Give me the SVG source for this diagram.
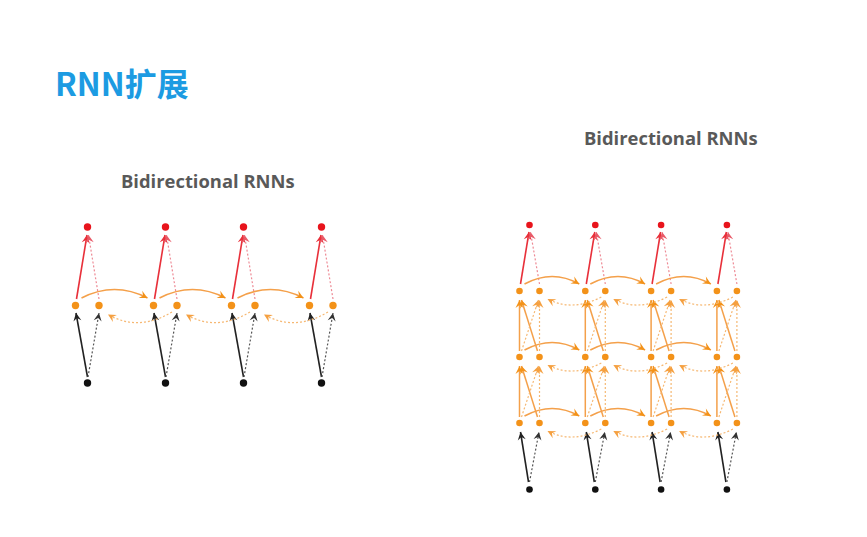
<svg xmlns="http://www.w3.org/2000/svg" width="867" height="537" viewBox="0 0 867 537">
<style>
.ttl{font-family:"Noto Sans CJK SC","Noto Sans",sans-serif;font-weight:700;font-size:32px;fill:#1c9be2}
.sub{font-family:"Open Sans","Noto Sans",sans-serif;font-weight:700;font-size:18.4px;fill:#595959}
.nr{fill:#e8141c}.no{fill:#f39219}.nk{fill:#111}
path{fill:none}
.ks{stroke:#222;stroke-width:1.6;marker-end:url(#ak)}
.kd{stroke:#555;stroke-width:1.2;stroke-dasharray:2 2;marker-end:url(#akd)}
.rs{stroke:#e8303a;stroke-width:1.6;marker-end:url(#ar)}
.rd{stroke:#ee8a95;stroke-width:1.2;stroke-dasharray:2 2;marker-end:url(#ard)}
.os{stroke:#f4a04a;stroke-width:1.5;marker-end:url(#ao)}
.od{stroke:#f6b873;stroke-width:1.2;stroke-dasharray:2 2;marker-end:url(#aod)}
</style>
<defs>
<marker id="ak" viewBox="-9 -5 10 10" refX="0" refY="0" markerWidth="10" markerHeight="10" markerUnits="userSpaceOnUse" orient="auto"><path d="M0,0 L-8,-4 L-5,0 L-8,4 Z" style="fill:#222"/></marker>
<marker id="akd" viewBox="-9 -5 10 10" refX="0" refY="0" markerWidth="10" markerHeight="10" markerUnits="userSpaceOnUse" orient="auto"><path d="M0,0 L-8,-4 L-5,0 L-8,4 Z" style="fill:#333"/></marker>
<marker id="ar" viewBox="-9 -5 10 10" refX="0" refY="0" markerWidth="10" markerHeight="10" markerUnits="userSpaceOnUse" orient="auto"><path d="M0,0 L-8,-4 L-5,0 L-8,4 Z" style="fill:#e8303a"/></marker>
<marker id="ard" viewBox="-9 -5 10 10" refX="0" refY="0" markerWidth="10" markerHeight="10" markerUnits="userSpaceOnUse" orient="auto"><path d="M0,0 L-8,-4 L-5,0 L-8,4 Z" style="fill:#e85a68"/></marker>
<marker id="ao" viewBox="-9 -5 10 10" refX="0" refY="0" markerWidth="10" markerHeight="10" markerUnits="userSpaceOnUse" orient="auto"><path d="M0,0 L-8,-4 L-5,0 L-8,4 Z" style="fill:#f39219"/></marker>
<marker id="aod" viewBox="-9 -5 10 10" refX="0" refY="0" markerWidth="10" markerHeight="10" markerUnits="userSpaceOnUse" orient="auto"><path d="M0,0 L-8,-4 L-5,0 L-8,4 Z" style="fill:#f5a040"/></marker>
</defs>
<rect width="867" height="537" fill="#ffffff"/>
<text class="ttl" x="55" y="96">RNN扩展</text>
<text class="sub" x="121" y="188">Bidirectional RNNs</text>
<text class="sub" x="584" y="145">Bidirectional RNNs</text>

<g id="connectors">
<!-- left diagram -->
<path class="ks" d="M87.5,377 L76,313"/><path class="ks" d="M165.5,377 L154,313"/><path class="ks" d="M243.5,377 L232,313"/><path class="ks" d="M321.5,377 L310,313"/>
<path class="kd" d="M88,377 L99,313"/><path class="kd" d="M166,377 L177,313"/><path class="kd" d="M244,377 L255,313"/><path class="kd" d="M322,377 L333,313"/>
<path class="rs" d="M76.5,299 L87,235"/><path class="rs" d="M154.5,299 L165,235"/><path class="rs" d="M232.5,299 L243,235"/><path class="rs" d="M310.5,299 L321,235"/>
<path class="rd" d="M99,299 L88.5,235"/><path class="rd" d="M177,299 L166.5,235"/><path class="rd" d="M255,299 L244.5,235"/><path class="rd" d="M333,299 L322.5,235"/>
<path class="os" d="M81.5,298 Q114.5,281 147.5,298"/><path class="os" d="M159.5,298 Q192.5,281 225.5,298"/><path class="os" d="M237.5,298 Q270.5,281 303.5,298"/>
<path class="od" d="M172,312 Q138,332 108,314.5"/><path class="od" d="M250,312 Q216,332 186,314.5"/><path class="od" d="M328,312 Q294,332 264,314.5"/>
<!-- right diagram -->
<path class="ks" d="M528.5,482 L520.5,432"/><path class="ks" d="M594.3,482 L586.3,432"/><path class="ks" d="M660.1,482 L652.1,432"/><path class="ks" d="M725.9,482 L717.9,432"/>
<path class="kd" d="M529.5,482 L539,432"/><path class="kd" d="M595.3,482 L604.8,432"/><path class="kd" d="M661.1,482 L670.6,432"/><path class="kd" d="M726.9,482 L736.4,432"/>
<path class="rs" d="M520.5,284 L529,232"/><path class="rs" d="M586.3,284 L594.8,232"/><path class="rs" d="M652.1,284 L660.6,232"/><path class="rs" d="M717.9,284 L726.4,232"/>
<path class="rd" d="M539.5,284 L530.5,232"/><path class="rd" d="M605.3,284 L596.3,232"/><path class="rd" d="M671.1,284 L662.1,232"/><path class="rd" d="M736.9,284 L727.9,232"/>
<!-- layer 1 to layer 2 -->
<path class="os" d="M519.5,417 L519.5,366"/><path class="os" d="M537.5,417 L521.5,366"/><path class="od" d="M521.5,417 L538.5,366"/><path class="od" d="M539.5,417 L539.5,366"/>
<path class="os" d="M585.3,417 L585.3,366"/><path class="os" d="M603.3,417 L587.3,366"/><path class="od" d="M587.3,417 L604.3,366"/><path class="od" d="M605.3,417 L605.3,366"/>
<path class="os" d="M651.1,417 L651.1,366"/><path class="os" d="M669.1,417 L653.1,366"/><path class="od" d="M653.1,417 L670.1,366"/><path class="od" d="M671.1,417 L671.1,366"/>
<path class="os" d="M716.9,417 L716.9,366"/><path class="os" d="M734.9,417 L718.9,366"/><path class="od" d="M718.9,417 L735.9,366"/><path class="od" d="M736.9,417 L736.9,366"/>
<!-- layer 2 to layer 3 -->
<path class="os" d="M519.5,351 L519.5,300"/><path class="os" d="M537.5,351 L521.5,300"/><path class="od" d="M521.5,351 L538.5,300"/><path class="od" d="M539.5,351 L539.5,300"/>
<path class="os" d="M585.3,351 L585.3,300"/><path class="os" d="M603.3,351 L587.3,300"/><path class="od" d="M587.3,351 L604.3,300"/><path class="od" d="M605.3,351 L605.3,300"/>
<path class="os" d="M651.1,351 L651.1,300"/><path class="os" d="M669.1,351 L653.1,300"/><path class="od" d="M653.1,351 L670.1,300"/><path class="od" d="M671.1,351 L671.1,300"/>
<path class="os" d="M716.9,351 L716.9,300"/><path class="os" d="M734.9,351 L718.9,300"/><path class="od" d="M718.9,351 L735.9,300"/><path class="od" d="M736.9,351 L736.9,300"/>
<!-- forward arcs -->
<path class="os" d="M524.5,284 Q552.4,269 579.3,284"/><path class="os" d="M590.3,284 Q618.2,269 645.1,284"/><path class="os" d="M656.1,284 Q684,269 710.9,284"/>
<path class="os" d="M524.5,350 Q552.4,335 579.3,350"/><path class="os" d="M590.3,350 Q618.2,335 645.1,350"/><path class="os" d="M656.1,350 Q684,335 710.9,350"/>
<path class="os" d="M524.5,416 Q552.4,401 579.3,416"/><path class="os" d="M590.3,416 Q618.2,401 645.1,416"/><path class="os" d="M656.1,416 Q684,401 710.9,416"/>
<!-- backward arcs -->
<path class="od" d="M601.3,297 Q572.4,312 547.5,299"/><path class="od" d="M667.1,297 Q638.2,312 613.3,299"/><path class="od" d="M732.9,297 Q704,312 679.1,299"/>
<path class="od" d="M601.3,363 Q572.4,378 547.5,365"/><path class="od" d="M667.1,363 Q638.2,378 613.3,365"/><path class="od" d="M732.9,363 Q704,378 679.1,365"/>
<path class="od" d="M601.3,429 Q572.4,444 547.5,431"/><path class="od" d="M667.1,429 Q638.2,444 613.3,431"/><path class="od" d="M732.9,429 Q704,444 679.1,431"/>
</g>

<!-- left diagram nodes -->
<g id="l-y1"><circle class="nr" cx="87.5" cy="227" r="3.7"/></g>
<g id="l-y2"><circle class="nr" cx="165.5" cy="227" r="3.7"/></g>
<g id="l-y3"><circle class="nr" cx="243.5" cy="227" r="3.7"/></g>
<g id="l-y4"><circle class="nr" cx="321.5" cy="227" r="3.7"/></g>
<g id="l-f1"><circle class="no" cx="75.5" cy="305.5" r="3.7"/></g>
<g id="l-b1"><circle class="no" cx="99" cy="305.5" r="3.7"/></g>
<g id="l-f2"><circle class="no" cx="153.5" cy="305.5" r="3.7"/></g>
<g id="l-b2"><circle class="no" cx="177" cy="305.5" r="3.7"/></g>
<g id="l-f3"><circle class="no" cx="231.5" cy="305.5" r="3.7"/></g>
<g id="l-b3"><circle class="no" cx="255" cy="305.5" r="3.7"/></g>
<g id="l-f4"><circle class="no" cx="309.5" cy="305.5" r="3.7"/></g>
<g id="l-b4"><circle class="no" cx="333" cy="305.5" r="3.7"/></g>
<g id="l-x1"><circle class="nk" cx="87.5" cy="383" r="3.7"/></g>
<g id="l-x2"><circle class="nk" cx="165.5" cy="383" r="3.7"/></g>
<g id="l-x3"><circle class="nk" cx="243.5" cy="383" r="3.7"/></g>
<g id="l-x4"><circle class="nk" cx="321.5" cy="383" r="3.7"/></g>

<!-- right diagram nodes -->
<g id="r-y1"><circle class="nr" cx="529.5" cy="225" r="3.3"/></g>
<g id="r-y2"><circle class="nr" cx="595.3" cy="225" r="3.3"/></g>
<g id="r-y3"><circle class="nr" cx="661.1" cy="225" r="3.3"/></g>
<g id="r-y4"><circle class="nr" cx="726.9" cy="225" r="3.3"/></g>
<g id="r-h3f1"><circle class="no" cx="519.5" cy="291" r="3.3"/></g>
<g id="r-h3b1"><circle class="no" cx="539.5" cy="291" r="3.3"/></g>
<g id="r-h3f2"><circle class="no" cx="585.3" cy="291" r="3.3"/></g>
<g id="r-h3b2"><circle class="no" cx="605.3" cy="291" r="3.3"/></g>
<g id="r-h3f3"><circle class="no" cx="651.1" cy="291" r="3.3"/></g>
<g id="r-h3b3"><circle class="no" cx="671.1" cy="291" r="3.3"/></g>
<g id="r-h3f4"><circle class="no" cx="716.9" cy="291" r="3.3"/></g>
<g id="r-h3b4"><circle class="no" cx="736.9" cy="291" r="3.3"/></g>
<g id="r-h2f1"><circle class="no" cx="519.5" cy="357" r="3.3"/></g>
<g id="r-h2b1"><circle class="no" cx="539.5" cy="357" r="3.3"/></g>
<g id="r-h2f2"><circle class="no" cx="585.3" cy="357" r="3.3"/></g>
<g id="r-h2b2"><circle class="no" cx="605.3" cy="357" r="3.3"/></g>
<g id="r-h2f3"><circle class="no" cx="651.1" cy="357" r="3.3"/></g>
<g id="r-h2b3"><circle class="no" cx="671.1" cy="357" r="3.3"/></g>
<g id="r-h2f4"><circle class="no" cx="716.9" cy="357" r="3.3"/></g>
<g id="r-h2b4"><circle class="no" cx="736.9" cy="357" r="3.3"/></g>
<g id="r-h1f1"><circle class="no" cx="519.5" cy="423" r="3.3"/></g>
<g id="r-h1b1"><circle class="no" cx="539.5" cy="423" r="3.3"/></g>
<g id="r-h1f2"><circle class="no" cx="585.3" cy="423" r="3.3"/></g>
<g id="r-h1b2"><circle class="no" cx="605.3" cy="423" r="3.3"/></g>
<g id="r-h1f3"><circle class="no" cx="651.1" cy="423" r="3.3"/></g>
<g id="r-h1b3"><circle class="no" cx="671.1" cy="423" r="3.3"/></g>
<g id="r-h1f4"><circle class="no" cx="716.9" cy="423" r="3.3"/></g>
<g id="r-h1b4"><circle class="no" cx="736.9" cy="423" r="3.3"/></g>
<g id="r-x1"><circle class="nk" cx="529.5" cy="489.5" r="3.3"/></g>
<g id="r-x2"><circle class="nk" cx="595.3" cy="489.5" r="3.3"/></g>
<g id="r-x3"><circle class="nk" cx="661.1" cy="489.5" r="3.3"/></g>
<g id="r-x4"><circle class="nk" cx="726.9" cy="489.5" r="3.3"/></g>
</svg>
